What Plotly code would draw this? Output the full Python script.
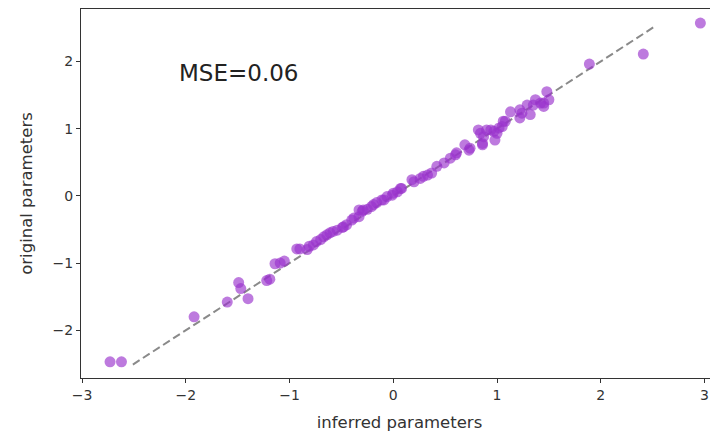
import plotly.graph_objects as go

# inferred (x) vs original (y) parameters
inferred = [-2.73, -2.62, -1.92, -1.60, -1.49, -1.47, -1.40, -1.22, -1.19, -1.14,
            -1.09, -1.05, -0.93, -0.90, -0.83, -0.81, -0.77, -0.74, -0.70, -0.67,
            -0.64, -0.61, -0.58, -0.54, -0.49, -0.48, -0.45, -0.40, -0.38, -0.33,
            -0.33, -0.30, -0.29, -0.25, -0.21, -0.19, -0.16, -0.11, -0.09, -0.06,
            -0.01, 0.00, 0.04, 0.07, 0.08, 0.18, 0.20, 0.26, 0.29, 0.33,
            0.37, 0.42, 0.49, 0.55, 0.60, 0.61, 0.69, 0.73, 0.74, 0.82,
            0.84, 0.86, 0.86, 0.87, 0.90, 0.94, 0.97, 0.98, 1.00, 1.02,
            1.05, 1.06, 1.08, 1.13, 1.22, 1.22, 1.24, 1.29, 1.32, 1.35,
            1.37, 1.42, 1.45, 1.45, 1.48, 1.50, 1.89, 2.41, 2.96]
original = [-2.47, -2.47, -1.80, -1.58, -1.29, -1.38, -1.53, -1.26, -1.24, -1.01,
            -1.00, -0.97, -0.79, -0.79, -0.80, -0.75, -0.73, -0.68, -0.65, -0.61,
            -0.58, -0.55, -0.53, -0.51, -0.47, -0.46, -0.43, -0.36, -0.33, -0.31,
            -0.21, -0.23, -0.21, -0.20, -0.16, -0.13, -0.10, -0.06, -0.06, -0.01,
            0.01, 0.04, 0.06, 0.11, 0.11, 0.24, 0.21, 0.26, 0.29, 0.31,
            0.34, 0.44, 0.49, 0.56, 0.61, 0.64, 0.76, 0.68, 0.71, 0.98,
            0.93, 0.78, 0.76, 0.88, 0.98, 0.98, 0.96, 0.83, 0.93, 1.01,
            1.03, 1.11, 1.11, 1.25, 1.16, 1.28, 1.23, 1.35, 1.21, 1.35,
            1.43, 1.38, 1.38, 1.33, 1.55, 1.43, 1.96, 2.11, 2.57]

# ends of the y = x reference line
identity_range = [-2.51, 2.53]

mse_label = "MSE=0.06"
x_ticks = [-3, -2, -1, 0, 1, 2, 3]
y_ticks = [-2, -1, 0, 1, 2]

fig = go.Figure()
fig.add_trace(go.Scatter(
    x=identity_range, y=identity_range, mode="lines",
    line=dict(color="#8a8a8a", width=2, dash="8px,4px"),
    hoverinfo="skip", showlegend=False))
fig.add_trace(go.Scatter(
    x=inferred, y=original, mode="markers",
    marker=dict(color="#9932CC", size=11, opacity=0.65, line=dict(width=0)),
    showlegend=False))

fig.add_annotation(x=-2.08, y=1.83, xref="x", yref="y", text=mse_label,
                   showarrow=False, xanchor="left", yanchor="middle",
                   font=dict(family="DejaVu Sans", size=23, color="#222"))

axis_common = dict(showgrid=False, zeroline=False, showline=True, linecolor="#333",
                   linewidth=1, ticks="outside", ticklen=4, tickcolor="#333",
                   automargin=False,
                   tickfont=dict(family="DejaVu Sans", size=14, color="#333"))

fig.update_xaxes(range=[-3.01, 3.13], tickvals=x_ticks, mirror=True,
                 title=dict(text="inferred parameters",
                            font=dict(family="DejaVu Sans", size=16.5, color="#333")),
                 **axis_common)
fig.update_yaxes(range=[-2.71, 2.78], tickvals=y_ticks, mirror=False,
                 title=dict(text="original parameters",
                            font=dict(family="DejaVu Sans", size=16.5, color="#333")),
                 **axis_common)

# page body has an 8px margin, so the figure is 8px smaller than the window
fig.update_layout(width=710, height=424, margin=dict(l=73, r=0, t=1, b=54),
                  plot_bgcolor="white", paper_bgcolor="white")

fig.write_html("out.html")
